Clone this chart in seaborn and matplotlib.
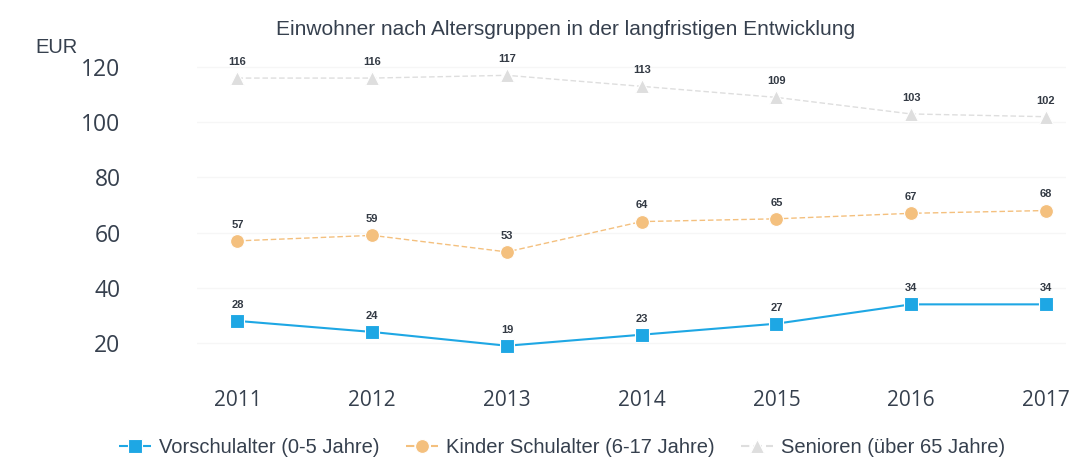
import numpy as np
import pandas as pd
import matplotlib.pyplot as plt
import seaborn as sns

years = [2011, 2012, 2013, 2014, 2015, 2016, 2017]
vorschule = [28, 24, 19, 23, 27, 34, 34]
schulalter = [57, 59, 53, 64, 65, 67, 68]
senioren = [116, 116, 117, 113, 109, 103, 102]
series_names = ['Vorschulalter (0-5 Jahre)', 'Kinder Schulalter (6-17 Jahre)', 'Senioren (über 65 Jahre)']
colors = ['#1ea7e4', '#f4c07e', '#dedede']

df = pd.DataFrame({
    'Jahr': years * 3,
    'Wert': vorschule + schulalter + senioren,
    'Gruppe': [series_names[0]] * 7 + [series_names[1]] * 7 + [series_names[2]] * 7,
})

sns.set_style('white')
plt.rcParams['font.family'] = ['Liberation Sans', 'DejaVu Sans']

fig = plt.figure(figsize=(10.73, 4.63), dpi=100)
ax = fig.add_axes([0.1836, 0.1996, 0.81, 0.6854])

sns.lineplot(data=df, x='Jahr', y='Wert', hue='Gruppe', style='Gruppe',
             palette=colors, markers=['s', 'o', '^'],
             dashes=[(1, 0), (4, 2), (4, 2)], markersize=10, linewidth=1.5,
             markeredgewidth=0.8, ax=ax, legend=True)
for line in ax.lines[1:3]:
    line.set_linewidth(1.0)

# data labels
for vals in [vorschule, schulalter, senioren]:
    for x, v in zip(years, vals):
        ax.annotate(str(v), (x, v), xytext=(0, 8), textcoords='offset points',
                    ha='center', va='bottom', fontsize=8, fontweight='bold',
                    color='#333a44')

ax.set_xlim(2010.7, 2017.15)
ax.set_ylim(10, 125)
ax.set_yticks([20, 40, 60, 80, 100, 120])
ax.set_xticks(years)
ax.tick_params(axis='y', pad=55, labelsize=16.5, labelcolor='#36404e', length=0)
ax.tick_params(axis='x', pad=14, labelsize=15, labelcolor='#36404e', length=0)
for lab in ax.get_xticklabels() + ax.get_yticklabels():
    lab.set_family(['Open Sans', 'DejaVu Sans'])
ax.set_xlabel('')
ax.set_ylabel('')
ax.grid(axis='y', color='#f6f6f6', linewidth=1)
for s in ax.spines.values():
    s.set_visible(False)

fig.text(0.527, 0.937, 'Einwohner nach Altersgruppen in der langfristigen Entwicklung',
         ha='center', va='center', fontsize=15, color='#36404e')
fig.text(0.033, 0.897, 'EUR', ha='left', va='center', fontsize=14.5, color='#36404e')

handles, labels = ax.get_legend_handles_labels()
ax.legend(handles, labels, loc='center', bbox_to_anchor=(0.524, 0.033),
          bbox_transform=fig.transFigure, ncol=3, frameon=False,
          fontsize=14.5, handlelength=1.6, handletextpad=0.4, columnspacing=1.3,
          labelcolor='#36404e')

fig.savefig('out.png', dpi=100)
